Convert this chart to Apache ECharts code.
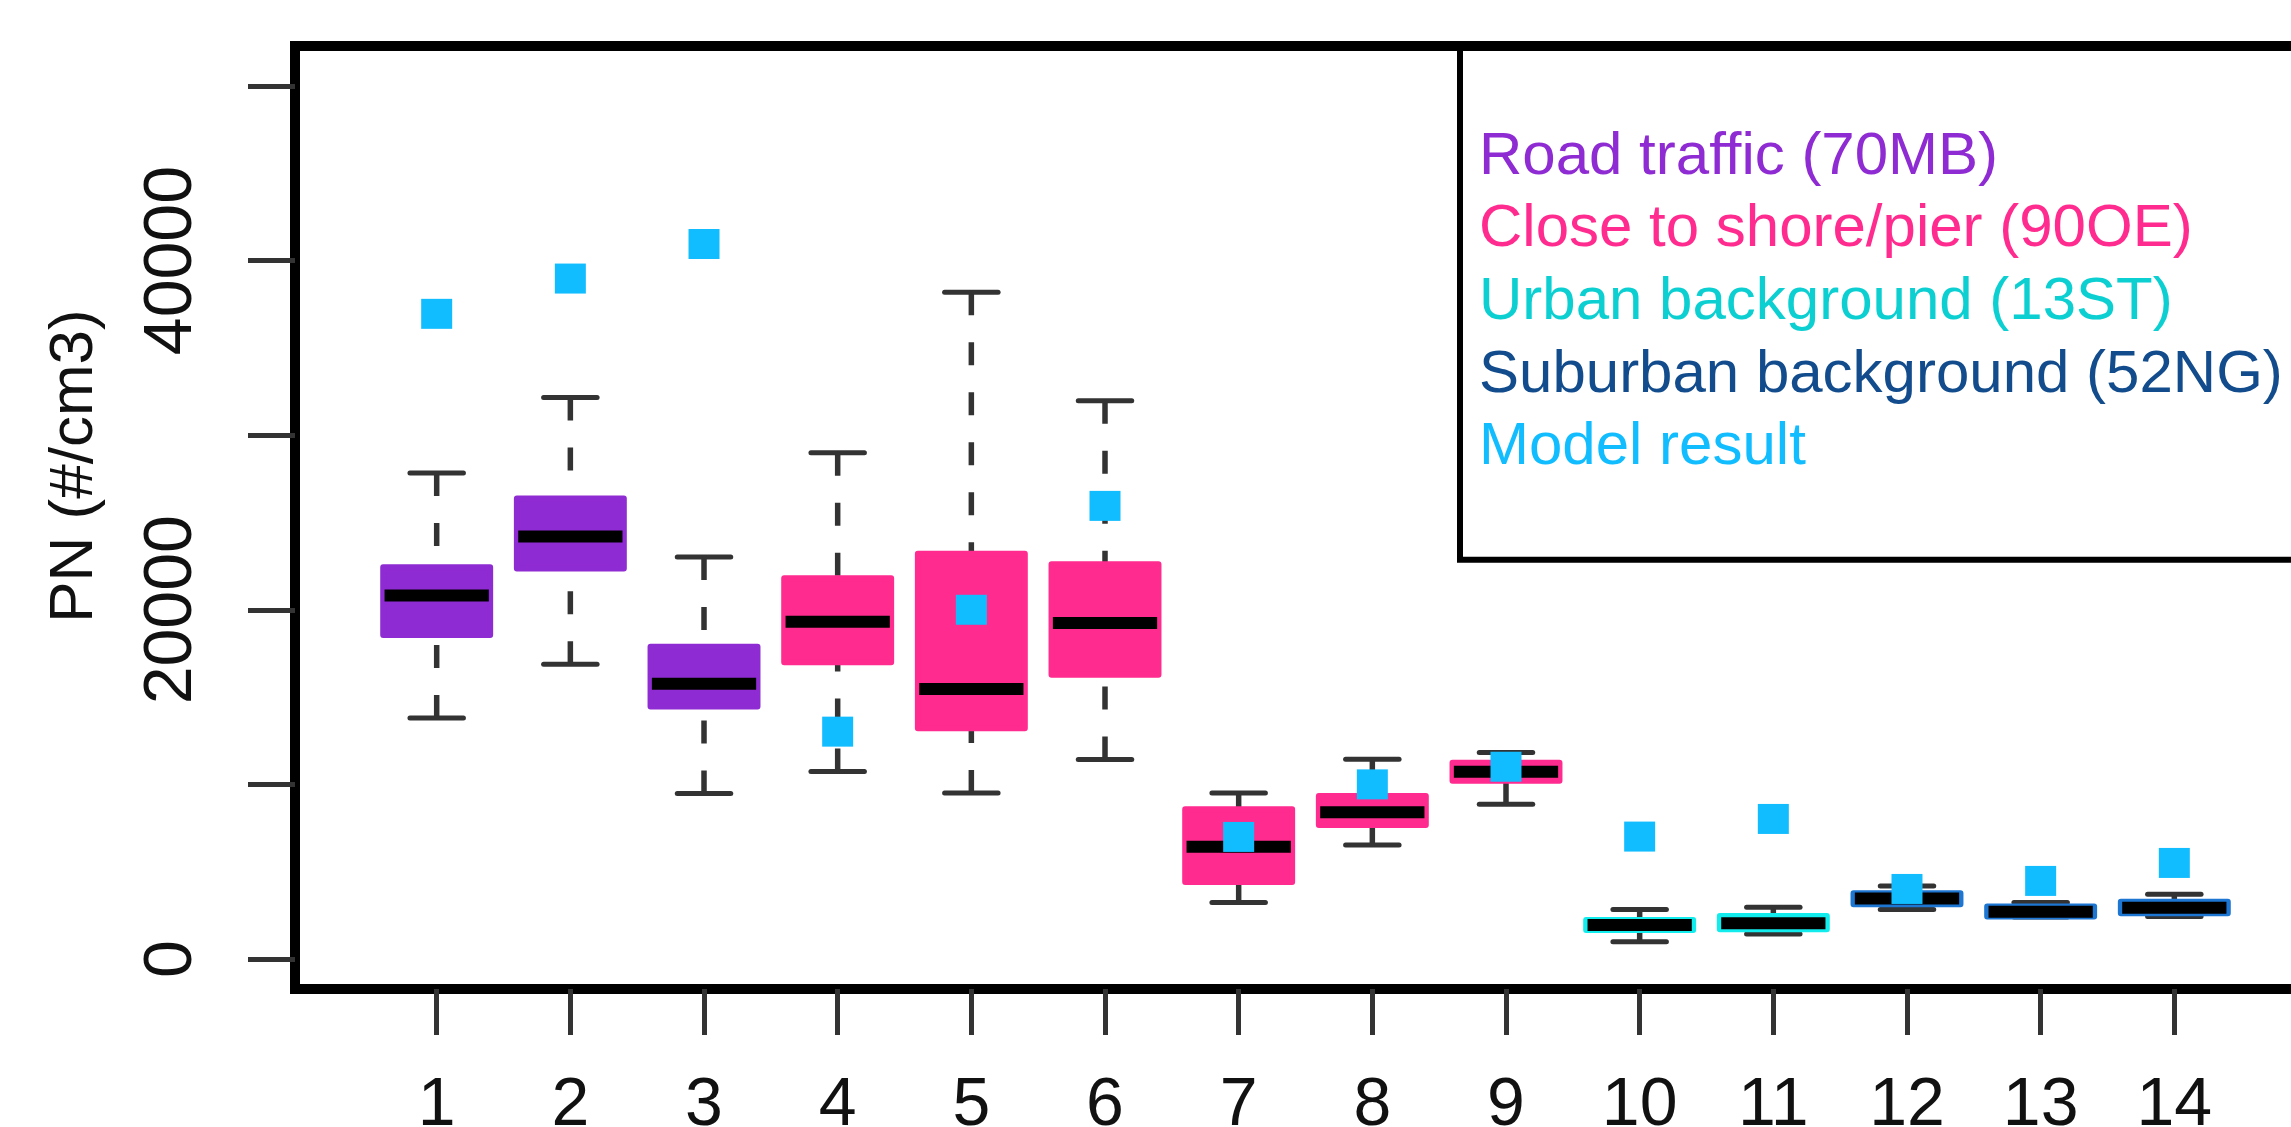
<!DOCTYPE html>
<html>
<head>
<meta charset="utf-8">
<script src="https://cdn.jsdelivr.net/npm/echarts@6/dist/echarts.min.js"></script>
<style>
  html, body { margin: 0; padding: 0; background: #ffffff; }
  #chart { width: 2291px; height: 1127px; }
</style>
</head>
<body>
<div id="chart"></div>
<script>
// Particle number concentration per site: box statistics and model estimate
const sites        = [1, 2, 3, 4, 5, 6, 7, 8, 9, 10, 11, 12, 13, 14];
const whiskerLow   = [13800, 16880, 9480, 10740, 9510, 11430, 3230, 6530, 8860, 990, 1430, 2840, 2400, 2430];
const quartile1    = [18550, 22370, 14460, 16990, 13210, 16280, 4410, 7670, 10210, 1660, 1700, 3130, 2430, 2620];
const medians      = [20820, 24190, 15770, 19320, 15460, 19240, 6430, 8400, 10730, 1950, 2040, 3470, 2710, 2940];
const quartile3    = [22430, 26370, 17880, 21810, 23210, 22610, 8570, 9340, 11240, 2230, 2460, 3760, 3000, 3280];
const whiskerHigh  = [27830, 32160, 23020, 28990, 38190, 31970, 9510, 11440, 11820, 2840, 2960, 4180, 3230, 3700];
const modelResult  = [36950, 38970, 40950, 13020, 20000, 25950, 6990, 10000, 11010, 7010, 8020, 4010, 4470, 5500];
const siteGroup    = [0, 0, 0, 1, 1, 1, 1, 1, 1, 2, 2, 3, 3, 3];
const groupNames   = ['Road traffic (70MB)', 'Close to shore/pier (90OE)', 'Urban background (13ST)', 'Suburban background (52NG)'];
const modelName    = 'Model result';
const yTickValues  = [0, 10000, 20000, 30000, 40000, 50000];
const yLabelValues = [0, 20000, 40000];

// Drawing styles per site group
const groupFill   = ['#8f2bd2', '#ff2b8e', '#20b4ae', '#0e4b8e'];
const groupBorder = ['#8f2bd2', '#ff2b8e', '#12ecec', '#1c76d2'];
const groupText   = ['#8f2bd2', '#ff2b8e', '#0ccfd2', '#124c8c'];
const modelColor  = '#12bdff';
const whiskerColor = '#333333';
const FONT = '"Liberation Sans", Arial, Helvetica, sans-serif';

function renderBox(params, api) {
  const x = api.value(0);
  const group = api.value(6);
  const lo = api.coord([x, api.value(1)]);
  const q1 = api.coord([x, api.value(2)]);
  const md = api.coord([x, api.value(3)]);
  const q3 = api.coord([x, api.value(4)]);
  const hi = api.coord([x, api.value(5)]);
  const bw = api.size([0.8, 0])[0];
  const sw = api.size([0.4, 0])[0];
  const mw = api.size([0.78, 0])[0];
  const cx = lo[0];
  // dashes start at the whisker end and run towards the box
  const whiskerStyle = { stroke: whiskerColor, lineWidth: 5.5, lineDash: [23, 27], lineCap: 'butt' };
  const stapleStyle = { stroke: whiskerColor, lineWidth: 5, lineCap: 'round' };
  return {
    type: 'group',
    children: [
      { type: 'line', shape: { x1: cx, y1: hi[1], x2: cx, y2: q3[1] }, style: whiskerStyle },
      { type: 'line', shape: { x1: cx, y1: lo[1], x2: cx, y2: q1[1] }, style: whiskerStyle },
      { type: 'line', shape: { x1: cx - sw / 2, y1: hi[1], x2: cx + sw / 2, y2: hi[1] }, style: stapleStyle },
      { type: 'line', shape: { x1: cx - sw / 2, y1: lo[1], x2: cx + sw / 2, y2: lo[1] }, style: stapleStyle },
      {
        type: 'rect',
        shape: { x: cx - bw / 2, y: q3[1], width: bw, height: q1[1] - q3[1] },
        style: { fill: groupFill[group], stroke: groupBorder[group], lineWidth: 6, lineJoin: 'round' }
      },
      {
        type: 'line',
        shape: { x1: cx - mw / 2, y1: md[1], x2: cx + mw / 2, y2: md[1] },
        style: { stroke: '#000000', lineWidth: 12, lineCap: 'butt' }
      }
    ]
  };
}

const boxSeries = groupNames.map((name, g) => ({
  name: name,
  type: 'custom',
  renderItem: renderBox,
  encode: { x: 0, y: [1, 2, 3, 4, 5] },
  itemStyle: { color: groupText[g] },
  data: sites
    .map((s, i) => [s, whiskerLow[i], quartile1[i], medians[i], quartile3[i], whiskerHigh[i], siteGroup[i]])
    .filter(row => row[6] === g),
  z: 2
}));

const modelSeries = {
  name: modelName,
  type: 'scatter',
  symbol: 'rect',
  symbolSize: [31, 30],
  itemStyle: { color: modelColor, opacity: 1 },
  data: sites.map((s, i) => [s, modelResult[i]]),
  z: 5
};

const chart = echarts.init(document.getElementById('chart'), null, { renderer: 'canvas' });
chart.setOption({
  animation: false,
  backgroundColor: '#ffffff',
  textStyle: { fontFamily: FONT },
  grid: {
    left: 295, top: 46, width: 2021, height: 943,
    outerBoundsMode: 'none',
    containLabel: false,
    show: true, borderColor: '#000000', borderWidth: 10, backgroundColor: 'transparent'
  },
  xAxis: {
    type: 'value',
    min: -0.06, max: 15.06,
    axisLine: { show: false, onZero: false },
    splitLine: { show: false },
    axisTick: {
      show: true, length: 46, customValues: sites,
      lineStyle: { color: '#333333', width: 5 }
    },
    axisLabel: {
      customValues: sites, fontSize: 68, color: '#111111', margin: 83, fontFamily: FONT,
      formatter: v => String(v)
    }
  },
  yAxis: {
    type: 'value',
    min: -1720, max: 52290,
    axisLine: { show: false, onZero: false },
    splitLine: { show: false },
    axisTick: {
      show: true, length: 47, customValues: yTickValues,
      lineStyle: { color: '#333333', width: 5 }
    },
    axisLabel: {
      customValues: yLabelValues, rotate: 90, fontSize: 68, color: '#111111', margin: 89, fontFamily: FONT,
      formatter: v => String(v)
    }
  },
  legend: {
    orient: 'vertical',
    left: 1460, top: 46,
    padding: [81, 80, 82, 14],
    itemWidth: 0, itemHeight: 60, itemGap: 12.7,
    itemStyle: { opacity: 0 },
    borderColor: '#000000', borderWidth: 6,
    selectedMode: false,
    textStyle: { fontSize: 60, lineHeight: 60, fontFamily: FONT },
    data: groupNames.map((n, g) => ({ name: n, textStyle: { color: groupText[g] } }))
      .concat([{ name: modelName, textStyle: { color: modelColor } }])
  },
  graphic: [{
    type: 'text',
    x: 75, y: 466,
    rotation: Math.PI / 2,
    style: {
      text: 'PN (#/cm3)', fontSize: 62, fontFamily: FONT, fill: '#111111',
      align: 'center', verticalAlign: 'middle'
    }
  }],
  series: boxSeries.concat([modelSeries])
});
</script>
</body>
</html>
